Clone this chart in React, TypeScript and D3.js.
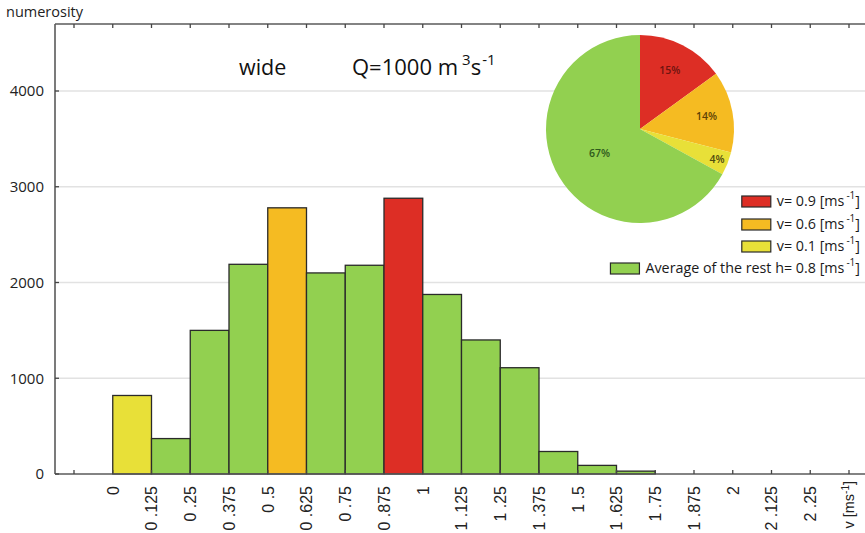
import React, { useEffect, useRef } from "react";
import * as d3 from "d3";

const binStarts = [0, 0.125, 0.25, 0.375, 0.5, 0.625, 0.75, 0.875, 1, 1.125, 1.25, 1.375, 1.5, 1.625];
const binWidth = 0.125;
const counts = [820, 370, 1500, 2190, 2780, 2100, 2180, 2880, 1875, 1400, 1110, 235, 90, 30];
const binGroups = ["v01", "rest", "rest", "rest", "v06", "rest", "rest", "v09", "rest", "rest", "rest", "rest", "rest", "rest"];

const xTickValues = [-0.125, 0, 0.125, 0.25, 0.375, 0.5, 0.625, 0.75, 0.875, 1, 1.125, 1.25, 1.375, 1.5, 1.625, 1.75, 1.875, 2, 2.125, 2.25, 2.375];
const xTickLabels = ["", "0", "0 .125", "0 .25", "0 .375", "0 .5", "0 .625", "0 .75", "0 .875", "1", "1 .125", "1 .25", "1 .375", "1 .5", "1 .625", "1 .75", "1 .875", "2", "2 .125", "2 .25", "v [ms"];
const yTickValues = [0, 1000, 2000, 3000, 4000];

const pieGroups = ["v09", "v06", "v01", "rest"];
const piePercents = [15, 14, 4, 67];
const pieLabelRadius = [0.7, 0.72, 0.88, 0.5];

const legendGroups = ["v09", "v06", "v01", "rest"];
const legendPrefixes = ["v= 0.9 [ms", "v= 0.6 [ms", "v= 0.1 [ms", "Average of the rest h= 0.8 [ms"];

const colors: Record<string, string> = { v09: "#dd2e25", v06: "#f5bb22", v01: "#e8e038", rest: "#92d050" };
const labelColors: Record<string, string> = { v09: "#6e1410", v06: "#5e4306", v01: "#4f4a10", rest: "#2f5a1c" };

const W = 865, H = 533;
const FONT = "'Open Sans', 'Noto Sans', sans-serif";
const AXFONT = "'Liberation Sans', Arial, sans-serif";

export default function App() {
  const ref = useRef<SVGSVGElement>(null);
  useEffect(() => {
    document.body.style.margin = "0";
    const svg = d3.select(ref.current);
    svg.selectAll("*").remove();
    const left = 55, top = 24, right = 867, bottom = 474;
    const x = d3.scaleLinear().domain([-0.125, 2.375]).range([74, 849]);
    const y = d3.scaleLinear().domain([0, 4000]).range([bottom, 91]);

    // gridlines
    svg.append("g").selectAll("line").data(yTickValues.filter(v => v > 0)).join("line")
      .attr("x1", left).attr("x2", right).attr("y1", d => y(d)).attr("y2", d => y(d))
      .attr("stroke", "#e2e2e2").attr("stroke-width", 1.5);

    // bars
    svg.append("g").selectAll("rect").data(binStarts).join("rect")
      .attr("x", d => x(d)).attr("width", d => x(d + binWidth) - x(d))
      .attr("y", (d, i) => y(counts[i])).attr("height", (d, i) => bottom - y(counts[i]))
      .attr("fill", (d, i) => colors[binGroups[i]])
      .attr("stroke", "#2a2a2a").attr("stroke-width", 1.3);

    // frame
    const frame = svg.append("g").attr("stroke", "#5a5a5a").attr("stroke-width", 1.6).attr("fill", "none");
    frame.append("line").attr("x1", left).attr("x2", right).attr("y1", top).attr("y2", top);
    frame.append("line").attr("x1", left).attr("x2", left).attr("y1", top).attr("y2", bottom);
    frame.append("line").attr("x1", left).attr("x2", right).attr("y1", bottom).attr("y2", bottom);

    // ticks
    const tk = svg.append("g").attr("stroke", "#444").attr("stroke-width", 1.3);
    xTickValues.forEach(v => {
      tk.append("line").attr("x1", x(v)).attr("x2", x(v)).attr("y1", top).attr("y2", top + 4);
      tk.append("line").attr("x1", x(v)).attr("x2", x(v)).attr("y1", bottom).attr("y2", bottom - 4);
    });
    yTickValues.forEach(v => {
      tk.append("line").attr("x1", left).attr("x2", left + 4).attr("y1", y(v)).attr("y2", y(v));
    });

    // y labels
    svg.append("g").selectAll("text").data(yTickValues).join("text")
      .attr("x", 44).attr("y", d => y(d)).attr("dy", "0.36em").attr("text-anchor", "end")
      .attr("font-family", FONT).attr("font-size", 15).attr("fill", "#222").text(d => String(d));

    svg.append("text").attr("x", 6).attr("y", 17).attr("font-family", FONT).attr("font-size", 14.5)
      .attr("fill", "#222").text("numerosity");

    // x labels
    const xl = svg.append("g");
    xTickValues.forEach((v, i) => {
      if (!xTickLabels[i]) return;
      const last = i === xTickLabels.length - 1;
      const t = xl.append("text")
        .attr("transform", `translate(${x(v)},${last ? 481 : 486}) rotate(-90)`)
        .attr("dy", "0.36em").attr("text-anchor", "end")
        .attr("font-family", AXFONT).attr("font-size", last ? 14.5 : 16).attr("fill", "#222");
      t.append("tspan").text(xTickLabels[i]);
      if (last) {
        t.append("tspan").attr("baseline-shift", "super").attr("font-size", 10).text("-1");
        t.append("tspan").attr("baseline-shift", "0").text("]");
      }
    });

    // title
    svg.append("text").attr("x", 239).attr("y", 75).attr("font-family", FONT).attr("font-size", 21.5)
      .attr("fill", "#111").text("wide");
    const q = svg.append("text").attr("x", 352).attr("y", 75).attr("font-family", FONT).attr("font-size", 22).attr("fill", "#111");
    q.append("tspan").text("Q=1000 m");
    q.append("tspan").attr("dx", 4).attr("baseline-shift", "super").attr("font-size", 15).text("3");
    q.append("tspan").attr("baseline-shift", "0").text("s");
    q.append("tspan").attr("dx", 1).attr("baseline-shift", "super").attr("font-size", 15).text("-1");

    // pie
    const cx = 640, cy = 129, r = 94;
    const pie = d3.pie<number>().sort(null).value(d => d);
    const arcs = pie(piePercents);
    const arc = d3.arc<d3.PieArcDatum<number>>().innerRadius(0).outerRadius(r);
    const pg = svg.append("g").attr("transform", `translate(${cx},${cy})`);
    pg.selectAll("path").data(arcs).join("path").attr("d", arc as any)
      .attr("fill", (d, i) => colors[pieGroups[i]]);
    pg.selectAll("text").data(arcs).join("text")
      .attr("transform", (d, i) => {
        const lr = r * pieLabelRadius[i];
        const c = d3.arc<d3.PieArcDatum<number>>().innerRadius(lr).outerRadius(lr).centroid(d);
        return `translate(${c[0]},${c[1]})`;
      })
      .attr("text-anchor", "middle").attr("dy", "0.35em")
      .attr("font-family", FONT).attr("font-size", 10.5).attr("font-weight", 600)
      .attr("fill", (d, i) => labelColors[pieGroups[i]]).text(d => `${d.data}%`);

    // legend
    const rowY = [201, 224, 246, 268];
    legendGroups.forEach((g, i) => {
      const t = svg.append("text").attr("x", 860).attr("y", rowY[i] + 5).attr("text-anchor", "end")
        .attr("font-family", FONT).attr("font-size", 14.3).attr("fill", "#1a1a1a");
      t.append("tspan").text(legendPrefixes[i]);
      t.append("tspan").attr("dx", 2).attr("baseline-shift", "super").attr("font-size", 10).text("-1");
      t.append("tspan").attr("baseline-shift", "0").text("]");
      const bb = (t.node() as SVGTextElement).getBBox();
      svg.append("rect").attr("x", bb.x - 6 - 29).attr("y", rowY[i] - 5).attr("width", 29).attr("height", 11)
        .attr("fill", colors[g]).attr("stroke", "#2a2a2a").attr("stroke-width", 1.2);
    });
  }, []);
  return (
    <svg ref={ref} width={W} height={H} style={{ position: "absolute", left: 0, top: 0, background: "#fff" }} />
  );
}
